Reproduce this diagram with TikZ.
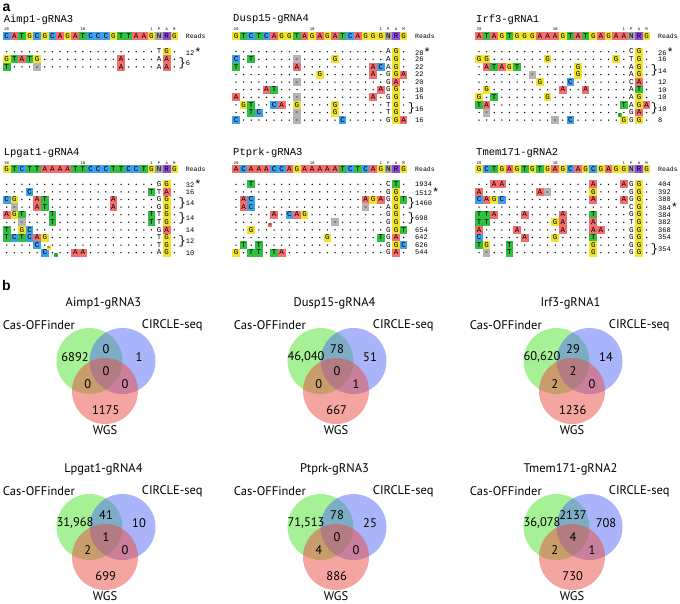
\documentclass[tikz,border=0pt]{standalone}
\usepackage{fontspec}
\setmainfont{Liberation Sans}
\newfontfamily\seqmono{Liberation Mono}
\newfontfamily\vennsans{PT Sans}
\usetikzlibrary{positioning}

\definecolor{ntA}{RGB}{245,110,110}
\definecolor{ntC}{RGB}{65,160,235}
\definecolor{ntG}{RGB}{240,228,45}
\definecolor{ntT}{RGB}{50,190,65}
\definecolor{ntN}{RGB}{165,165,165}
\definecolor{ntR}{RGB}{145,75,225}
\definecolor{ntgap}{RGB}{180,180,180}
\definecolor{setcas}{RGB}{77,225,45}
\definecolor{setcircle}{RGB}{85,105,245}
\definecolor{setwgs}{RGB}{235,75,65}

% one alignment row: name, x of column 1, y, letters (. = match, - = gap, lower case = plain)
\newcount\seqcol
\newcount\rowno
\def\seqpitch{7.62}
\newcommand\seqrow[4]{\def\seqname{#1}\def\seqx{#2}\def\seqy{#3}\seqcol=0 \expandafter\seqparse#4\relax}
\def\seqparse#1{\ifx#1\relax\else\advance\seqcol by 1 \csname cell#1\endcsname\expandafter\seqparse\fi}
\newcommand\cellbox[2]{\node[ntbox,fill=#2] (\seqname-\the\seqcol) at ({\seqx+(\the\seqcol-1)*\seqpitch},\seqy) {#1};}
\expandafter\def\csname cellA\endcsname{\cellbox{A}{ntA}}
\expandafter\def\csname cellC\endcsname{\cellbox{C}{ntC}}
\expandafter\def\csname cellG\endcsname{\cellbox{G}{ntG}}
\expandafter\def\csname cellT\endcsname{\cellbox{T}{ntT}}
\expandafter\def\csname cellN\endcsname{\cellbox{N}{ntN}}
\expandafter\def\csname cellR\endcsname{\cellbox{R}{ntR}}
\expandafter\def\csname cell-\endcsname{\cellbox{-}{ntgap}}
\expandafter\def\csname cella\endcsname{\cellbox{A}{white}}
\expandafter\def\csname cellc\endcsname{\cellbox{C}{white}}
\expandafter\def\csname cellg\endcsname{\cellbox{G}{white}}
\expandafter\def\csname cellt\endcsname{\cellbox{T}{white}}
\expandafter\def\csname cell.\endcsname{\fill ({\seqx+(\the\seqcol-1)*\seqpitch},\seqy) circle (0.75);}

% rows of a panel, one after the other
\newcommand\seqstart[3]{\def\rowname{#1}\def\rowx{#2}\def\rowy{#3}\rowno=0 }
\newcommand\seqline[1]{\advance\rowno by 1
  \pgfmathsetmacro\thisy{\rowy+(\the\rowno-1)*7.6}\seqrow{\rowname-\the\rowno}{\rowx}{\thisy}{#1}}

% title, position numbers, reference and Reads: name, x0, title y, title, reference
\newcommand\seqhead[5]{%
  \node[seqtitle] (#1-title) at (#2-3,#3) {#4};
  \pgfmathsetmacro\refy{#3+16.7}
  \pgfmathsetmacro\numy{#3+10}
  \node[colnum] (#1-p20) at (#2,\numy) {20};
  \node[colnum] (#1-p10) at ({#2+10*\seqpitch},\numy) {10};
  \node[colnum] (#1-p1) at ({#2+19*\seqpitch},\numy) {1};
  \node[colnum] (#1-pP) at ({#2+20*\seqpitch},\numy) {P};
  \node[colnum] (#1-pA) at ({#2+21*\seqpitch},\numy) {A};
  \node[colnum] (#1-pM) at ({#2+22*\seqpitch},\numy) {M};
  \node[readshead] (#1-reads) at (#2+179,\refy) {Reads};
  \seqrow{#1-ref}{#2}{\refy}{#5}}

\newcommand\seqreads[3]{%
  \foreach \r/\n in {#3} {\pgfmathsetmacro\ry{#2+(\r-1)*7.6}
    \node[readsnum] (reads-#1-\r) at (#1+179,\ry) {\n};}}
\newcommand\seqbraces[3]{%
  \foreach \r/\n in {#3} {\pgfmathsetmacro\ry{#2+(\r-0.5)*7.6}
    \node[readsbrace] (brace-#1-\r) at (#1+175.5,\ry) {\}};
    \node[readsnum] (reads-#1-\r) at (#1+179,\ry) {\n};}}
\newcommand\seqins[5]{\node[insbox,fill=#5] (ins-#1-#3) at ({#1+(#2-1)*\seqpitch},#3) {#4};}
\newcommand\rstar{\raisebox{-1pt}{\fontsize{12}{12}\selectfont*}}

% three-set diagram: centre, title, then the seven counts
\newcommand\venn[9]{%
  \begin{scope}[shift={#1}]
    \fill[setcas,setfill] (-16.5,0) circle (33);
    \fill[setcircle,setfill] (16.5,0) circle (33);
    \fill[setwgs,setfill] (-1,30) circle (33);
    \node[vennlab] (#2-title) at (-2.5,-57.7) {#2};
    \node[vennlab,anchor=east] (#2-cas) at (-31,-36) {Cas-OFFinder};
    \node[vennlab,anchor=west] (#2-circle) at (35.7,-36) {CIRCLE-seq};
    \node[vennlab] (#2-wgs) at (-1,69.5) {WGS};
    \node[vennlab] (#2-n1) at (-31,-4.3) {#3};
    \node[vennlab] (#2-n2) at (0,-11.7) {#4};
    \node[vennlab] (#2-n3) at (33,-4.3) {#5};
    \node[vennlab] (#2-n4) at (0,10) {#6};
    \node[vennlab] (#2-n5) at (-18.3,23.3) {#7};
    \node[vennlab] (#2-n6) at (19,23.3) {#8};
    \node[vennlab] (#2-n7) at (-0.3,49) {#9};
  \end{scope}}

\begin{document}
\begin{tikzpicture}[x=1pt,y=-1pt,
    ntbox/.style={minimum width=7.62,minimum height=8,inner sep=0,text height=4.4,text depth=0,
      font=\seqmono\fontsize{7.5}{7.5}\selectfont},
    insbox/.style={minimum size=3.8,inner sep=0,font=\seqmono\fontsize{3.5}{3.5}\selectfont},
    seqtitle/.style={anchor=west,inner sep=0,font=\seqmono\fontsize{10.5}{10.5}\selectfont},
    colnum/.style={inner sep=0,font=\seqmono\fontsize{4}{4}\selectfont},
    readshead/.style={anchor=west,inner sep=0,font=\seqmono\fontsize{6.5}{6.5}\selectfont},
    readsnum/.style={anchor=west,inner sep=0,font=\seqmono\fontsize{7}{7}\selectfont},
    readsbrace/.style={inner sep=0,font=\seqmono\fontsize{12}{12}\selectfont},
    setfill/.style={fill opacity=0.5},
    vennlab/.style={inner sep=0,font=\vennsans\fontsize{12.5}{12.5}\selectfont},
    panel/.style={inner sep=0,font=\bfseries\fontsize{14}{14}\selectfont},
    ]
\useasboundingbox (0,0) rectangle (680,603);

\node[panel,anchor=base west] (pa) at (2.5,11) {a};
\node[panel,anchor=base west] (pb) at (2,290) {b};

% Aimp1-gRNA3
\seqhead{aimp}{6.7}{19.3}{Aimp1-gRNA3}{CATGC GCAGA TCCCG TTAAG NRG}
\seqstart{aimp}{6.7}{51.7}
\seqline{..... ..... ..... ..... tG.}
\seqline{GTATG ..... ..... A.... aA.}
\seqline{T...- ..... ..... A.... aA.}
\seqreads{6.7}{51.7}{1/12\rstar}
\seqbraces{6.7}{51.7}{2/6}

% Dusp15-gRNA4
\seqhead{dusp}{236}{19.3}{Dusp15-gRNA4}{GTCTC AGGTA GAGAT CAGGG NRG}
\seqstart{dusp}{236}{51.7}
\seqline{..... ..... ..... ..... aG.}
\seqline{C.T.. ...-. ...G. ..... aG.}
\seqline{T.... ...A. ..... ...AC aG.}
\seqline{..... ..... .G... ...A. gGA}
\seqline{..... ...-. ..... ..... gA.}
\seqline{....A T.... ..... ....A gG.}
\seqline{A.... ...-. ..... ...A. gG.}
\seqline{.GT.. CA.G. ...G. ..... tG.}
\seqline{..TC. ...-. ...G. ..... tG.}
\seqline{C.... ...-. ....C ..... gGA}
\seqreads{236}{51.7}{1/28\rstar,2/26,3/22,4/22,5/20,6/18,7/16,10/16}
\seqbraces{236}{51.7}{8/16}

% Irf3-gRNA1
\seqhead{irf}{479}{19.3}{Irf3-gRNA1}{ATAGT GGGAA AGTAT GAGAA NRG}
\seqstart{irf}{479}{51.7}
\seqline{..... ..... ..... ..... cG.}
\seqline{GG... ....G ..... ...G. tG.}
\seqline{.ATAG T.... ...G. ..... aG.}
\seqline{..... ..-.. ...G. ..... aG.}
\seqline{..... ...G. ..C.. ..... cA.}
\seqline{.G... ..... .A..A ..... aT.}
\seqline{G.T.. ....G ..... ..... aG.}
\seqline{TA... ..... ..... ....T aGA}
\seqline{.-... ..... ..... ..... gA.}
\seqline{..... ..... -.C.. ....G gG.}
\seqins{479}{19.5}{115}{T}{ntT}
\seqreads{479}{51.7}{1/26\rstar,2/16,5/12,6/10,7/10,10/8}
\seqbraces{479}{51.7}{3/14,8/10}

% Lpgat1-gRNA4
\seqhead{lpg}{6.7}{152.7}{Lpgat1-gRNA4}{GTCTT AAAAT TCCCT TCCTG NRG}
\seqstart{lpg}{6.7}{184.3}
\seqline{..... ..... ..... ..... gG.}
\seqline{...C. ..... ..... ....T tA.}
\seqline{CG..A T.... ....A ..... gG.}
\seqline{.-..A T.... ....A ..... gG.}
\seqline{AGT.. .T... ..... ....T tG.}
\seqline{..-.. .T... ..... ....T tG.}
\seqline{T.GC. ..... ..... ..... gA.}
\seqline{TCTCA G.... ..... ..... tG.}
\seqline{....C ..... ..... ..... tG.}
\seqline{..... C...A A.... ..... aG.}
\seqins{6.7}{6.5}{247.6}{G}{ntG}
\seqins{6.7}{7.5}{255.2}{T}{ntT}
\seqreads{6.7}{184.3}{1/32\rstar,2/16,7/14,10/10}
\seqbraces{6.7}{184.3}{3/14,5/14,8/12}

% Ptprk-gRNA3
\seqhead{ptp}{236}{152.7}{Ptprk-gRNA3}{ACAAA CCAGA AAAAT CTCAG NRG}
\seqstart{ptp}{236}{184.3}
\seqline{..T.. ..... ..... ..... cT.}
\seqline{..... ..... ..... ..... gG.}
\seqline{.AC.. ..... ..... ..AGA gGT}
\seqline{.AC.. ..... ..... ..-.. aG.}
\seqline{..... A.CAG ..... ..... gG.}
\seqline{..... ..... ...-. ..... gG.}
\seqline{..G.. ..... ..... ..... gGT}
\seqline{..... ..... ..G.. ....T gA.}
\seqline{.T.T. ..... ..... ..... gGC}
\seqline{G.TT. TA... ..... ..... gA.}
\seqins{236}{5.5}{224.8}{A}{ntA}
\seqreads{236}{184.3}{1/1934,2/1512\rstar,7/654,8/642,9/626,10/544}
\seqbraces{236}{184.3}{3/1460,5/698}

% Tmem171-gRNA2
\seqhead{tme}{479}{152.7}{Tmem171-gRNA2}{GCTGA GTGTG AGCAG CGAGG NRG}
\seqstart{tme}{479}{184.3}
\seqline{..AA. ..... ..... A...A gG.}
\seqline{A.... ...A- ..... G.... gG.}
\seqline{CAGC. ..... ..... A...A gG.}
\seqline{..... ..... ..... ..... cG.}
\seqline{TTA.. .A... .A... T.... gG.}
\seqline{TT... ..... GA... A.... tG.}
\seqline{A.... A.... .A... AA... gG.}
\seqline{C.... .A... G.... T.... gG.}
\seqline{TG..T ..... ..... G.... gG.}
\seqline{.-..T ..... ..... G.... gG.}
\seqreads{479}{184.3}{1/404,2/392,3/388,4/384\rstar,5/384,6/382,7/368,8/354}
\seqbraces{479}{184.3}{9/354}

% Venn diagrams
\venn{(106,361)}{Aimp1-gRNA3}{6892}{0}{1}{0}{0}{0}{1175}
\venn{(337,361)}{Dusp15-gRNA4}{46,040}{78}{51}{0}{0}{1}{667}
\venn{(573,361)}{Irf3-gRNA1}{60,620}{29}{14}{2}{2}{0}{1236}
\venn{(106,527)}{Lpgat1-gRNA4}{31,968}{41}{10}{1}{2}{0}{699}
\venn{(337,527)}{Ptprk-gRNA3}{71,513}{78}{25}{0}{4}{0}{886}
\venn{(573,527)}{Tmem171-gRNA2}{36,078}{2137}{708}{4}{2}{1}{730}
\end{tikzpicture}
\end{document}
